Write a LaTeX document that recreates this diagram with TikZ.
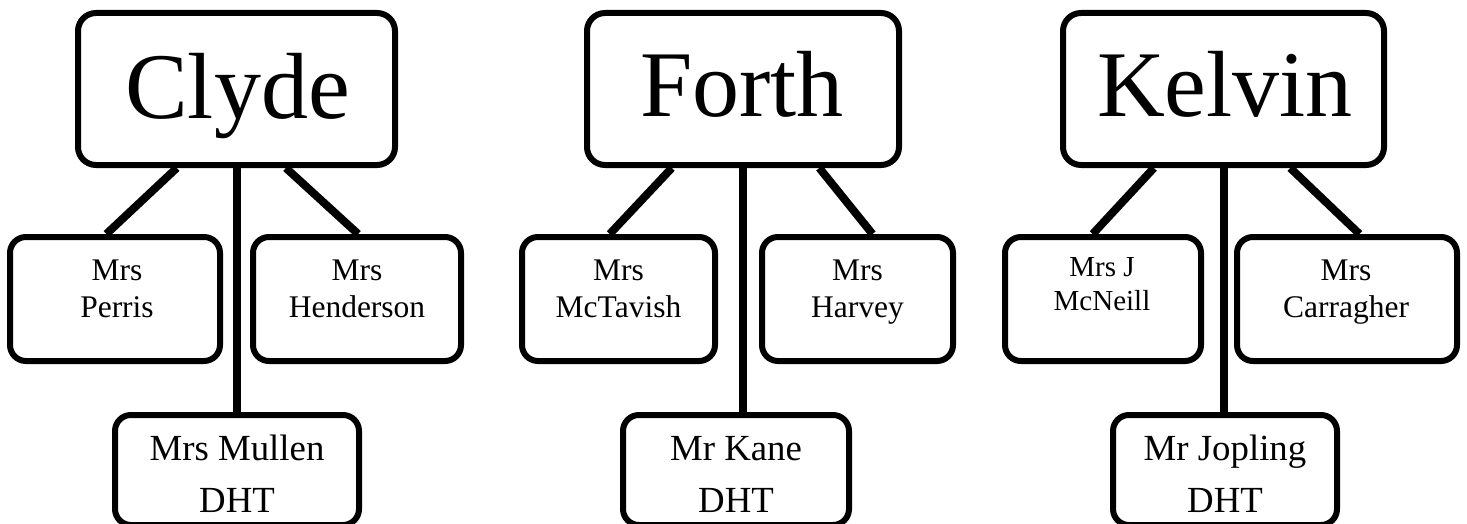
\documentclass[tikz,border=0pt]{standalone}
\usepackage{fontspec}
\setmainfont{Liberation Serif}
\usetikzlibrary{calc,backgrounds}
\begin{document}
\begin{tikzpicture}[x=0.5pt,y=-0.5pt,
  house/.style={draw, line width=3pt, rounded corners=9pt, fill=white, inner sep=0pt, minimum height=76pt},
  staff/.style={draw, line width=3pt, rounded corners=8pt, fill=white, inner sep=0pt, minimum height=62pt},
  dht/.style={draw, line width=3pt, rounded corners=8pt, fill=white, inner sep=0pt, minimum height=55pt},
  conn/.style={line width=4pt},
  big/.style={anchor=base, inner sep=0pt, font=\fontsize{47}{50}\selectfont},
  small/.style={anchor=base, inner sep=0pt, align=center, font=\fontsize{15.75}{18.5}\selectfont},
  smaller/.style={anchor=base, inner sep=0pt, align=center, font=\fontsize{14.5}{17}\selectfont},
  medium/.style={anchor=base, inner sep=0pt, align=center, font=\fontsize{18.4}{26}\selectfont}]
\clip (0,0) rectangle (1467,524);
% boxes
\node[house, minimum width=158.5pt] (clyde) at (236.5,89) {};
\node[house, minimum width=156pt] (forth) at (743,89) {};
\node[house, minimum width=160.5pt] (kelvin) at (1223.5,89) {};
\node[staff, minimum width=105pt] (perris) at (115,299) {};
\node[staff, minimum width=104pt] (henderson) at (357,299) {};
\node[staff, minimum width=96.5pt] (mctavish) at (618.5,299) {};
\node[staff, minimum width=95.5pt] (harvey) at (857.5,299) {};
\node[staff, minimum width=98pt] (mcneill) at (1103,299) {};
\node[staff, minimum width=110pt] (carragher) at (1347,299) {};
\node[dht, minimum width=122pt] (mullen) at (237,470) {};
\node[dht, minimum width=113pt] (kane) at (736,470) {};
\node[dht, minimum width=112pt] (jopling) at (1225,470) {};
% texts (anchored at the baseline of the last line)
\node[big] (tclyde) at ($(clyde.north)+(1,109)$) {Clyde};
\node[big] (tforth) at ($(forth.north)+(-1,107)$) {Forth};
\node[big] (tkelvin) at ($(kelvin.north)+(1.5,107)$) {Kelvin};
\node[small] (tperris) at ($(perris.north)+(2,83)$) {Mrs\\Perris};
\node[small] (thenderson) at ($(henderson.north)+(0,83)$) {Mrs\\Henderson};
\node[small] (tmctavish) at ($(mctavish.north)+(0,83)$) {Mrs\\McTavish};
\node[small] (tharvey) at ($(harvey.north)+(0,83)$) {Mrs\\Harvey};
\node[smaller] (tmcneill) at ($(mcneill.north)+(-1,76)$) {Mrs J\\McNeill};
\node[small] (tcarragher) at ($(carragher.north)+(-1,83)$) {Mrs\\Carragher};
\node[medium] (tmullen) at ($(mullen.north)+(0,100)$) {Mrs Mullen\\DHT};
\node[medium] (tkane) at ($(kane.north)+(0,100)$) {Mr Kane\\DHT};
\node[medium] (tjopling) at ($(jopling.north)+(0,100)$) {Mr Jopling\\DHT};
% connectors
\begin{scope}[on background layer]
\draw[conn] ($(clyde.south west)!0.315!(clyde.south east)$) -- ($(perris.north west)!0.46!(perris.north east)$);
\draw[conn] ($(clyde.south west)!0.653!(clyde.south east)$) -- ($(henderson.north west)!0.505!(henderson.north east)$);
\draw[conn] (clyde.south) -- (clyde.south |- mullen.north);
\draw[conn] ($(forth.south west)!0.276!(forth.south east)$) -- ($(mctavish.north west)!0.456!(mctavish.north east)$);
\draw[conn] ($(forth.south west)!0.74!(forth.south east)$) -- ($(harvey.north west)!0.576!(harvey.north east)$);
\draw[conn] (forth.south) -- (forth.south |- kane.north);
\draw[conn] ($(kelvin.south west)!0.287!(kelvin.south east)$) -- ($(mcneill.north west)!0.449!(mcneill.north east)$);
\draw[conn] ($(kelvin.south west)!0.704!(kelvin.south east)$) -- ($(carragher.north west)!0.555!(carragher.north east)$);
\draw[conn] (kelvin.south) -- (kelvin.south |- jopling.north);
\end{scope}
\end{tikzpicture}
\end{document}
